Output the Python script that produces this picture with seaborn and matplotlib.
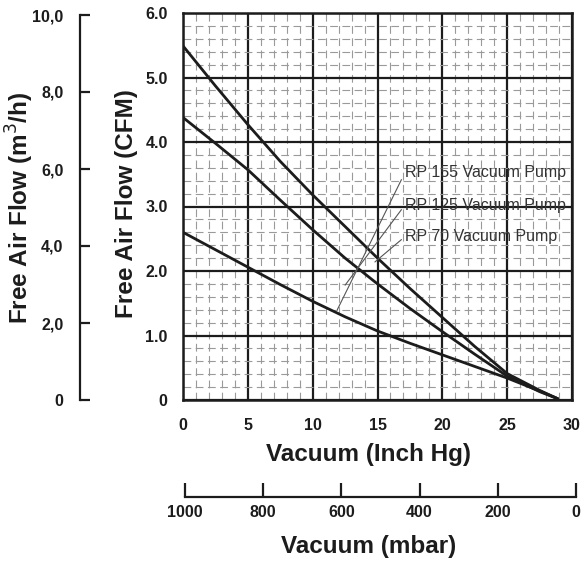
import numpy as np
import pandas as pd
import matplotlib
matplotlib.use("Agg")
import matplotlib.pyplot as plt
from matplotlib.ticker import MultipleLocator
import seaborn as sns

# values (vacuum in inch Hg, flow in CFM)
vacuum = [0, 2.5, 5, 7.5, 10, 12.5, 15, 17.5, 20, 22.5, 25, 27.5, 28.9]
rp155 = [5.49, 4.87, 4.27, 3.70, 3.18, 2.69, 2.20, 1.73, 1.28, 0.83, 0.41, 0.15, 0.02]
rp125 = [4.38, 3.98, 3.57, 3.10, 2.64, 2.20, 1.80, 1.42, 1.06, 0.71, 0.37, 0.13, 0.02]
rp70 = [2.60, 2.33, 2.06, 1.79, 1.53, 1.29, 1.07, 0.88, 0.70, 0.52, 0.34, 0.14, 0.02]
pumps = ["RP 155 Vacuum Pump", "RP 125 Vacuum Pump", "RP 70 Vacuum Pump"]

# leader lines: label anchor -> point in the plot
label_xy = [(17.1, 3.52), (17.1, 3.02), (17.1, 2.53)]
leader_xy = [(11.9, 1.40), (12.5, 1.78), (14.8, 2.14)]

cfm_ticks = [0, 1, 2, 3, 4, 5, 6]
inch_ticks = [0, 5, 10, 15, 20, 25, 30]
m3h_ticks = [0, 2, 4, 6, 8, 10]
mbar_ticks = [1000, 800, 600, 400, 200, 0]

df = pd.DataFrame({
    "vacuum": vacuum * 3,
    "flow": rp155 + rp125 + rp70,
    "pump": [p for p in pumps for _ in vacuum],
})

sns.set_style("white")
plt.rcParams["font.family"] = ["Liberation Sans", "DejaVu Sans"]
ink = "#1c1c1c"
tick_fs = 11.5
label_fs = 17.5

W, H = 586, 565
fig = plt.figure(figsize=(W / 100, H / 100), dpi=100)

def fx(px):
    return px / W

def fy(py):
    return 1 - py / H

L, R, T, B = 183, 572, 13, 400
ax = fig.add_axes([fx(L), fy(B), (R - L) / W, (B - T) / H])

sns.lineplot(data=df, x="vacuum", y="flow", hue="pump", palette=[ink] * 3,
             linewidth=2.0, legend=False, ax=ax, zorder=5)

ax.set_xlim(0, 30)
ax.set_ylim(0, 6)
ax.set_xticks(inch_ticks)
ax.set_xticklabels([str(t) for t in inch_ticks])
ax.set_yticks(cfm_ticks)
ax.set_yticklabels(["0"] + [f"{t:.1f}" for t in cfm_ticks[1:]])
ax.xaxis.set_minor_locator(MultipleLocator(1))
ax.yaxis.set_minor_locator(MultipleLocator(0.2))
ax.grid(which="major", color=ink, linewidth=1.6)
ax.grid(which="minor", color="#9a9a9a", linewidth=0.8, linestyle=(0, (7, 4)))
ax.set_axisbelow(True)
for s in ax.spines.values():
    s.set_color(ink)
    s.set_linewidth(1.8)
ax.tick_params(which="both", length=0)
ax.tick_params(axis="x", pad=13, labelsize=tick_fs, labelcolor=ink)
ax.tick_params(axis="y", pad=11, labelsize=tick_fs, labelcolor=ink)
for t in ax.get_xticklabels() + ax.get_yticklabels():
    t.set_fontweight("bold")

ax.set_xlabel("Vacuum (Inch Hg)", fontsize=label_fs, fontweight="bold", color=ink, va="center")
ax.xaxis.set_label_coords((368 - L) / (R - L), (B - 454) / (B - T))
ax.set_ylabel("Free Air Flow (CFM)", fontsize=label_fs, fontweight="bold", color=ink, va="center")
ax.yaxis.set_label_coords((127 - L) / (R - L), (B - 204) / (B - T))

for name, (lx, ly), (ex, ey) in zip(pumps, label_xy, leader_xy):
    ax.annotate(name, xy=(ex, ey), xytext=(lx, ly), fontsize=11.5, color="#333333",
                va="center", ha="left", annotation_clip=False, zorder=6,
                arrowprops=dict(arrowstyle="-", color="#555555", lw=0.8,
                                shrinkA=0, shrinkB=0, relpos=(0, 0.5)))

# secondary scale: m3/h on the left
axm = fig.add_axes([fx(80), fy(B), 0.001, (B - 15) / H])
axm.set_ylim(0, 10)
axm.set_yticks(m3h_ticks)
axm.set_yticklabels(["0"] + [f"{t},0" for t in m3h_ticks[1:]])
axm.set_xticks([])
for k in ["top", "right", "bottom"]:
    axm.spines[k].set_visible(False)
axm.spines["left"].set_color(ink)
axm.spines["left"].set_linewidth(1.6)
axm.patch.set_alpha(0)
axm.tick_params(axis="y", left=True, direction="in", length=7, width=1.6, color=ink,
                pad=12, labelsize=tick_fs, labelcolor=ink)
for t in axm.get_yticklabels():
    t.set_fontweight("bold")
axm.set_ylabel("Free Air Flow (m$^3$/h)", fontsize=label_fs, fontweight="bold", color=ink, va="center")
axm.yaxis.set_label_coords(-(80 - 20) / (0.001 * W), 0.5)

# secondary scale: mbar at the bottom
axb = fig.add_axes([fx(L + 2), fy(497), (R - L + 2) / W, 0.001])
axb.set_xlim(1000, 0)
axb.set_xticks(mbar_ticks)
axb.set_xticklabels([str(t) for t in mbar_ticks])
axb.set_yticks([])
for k in ["top", "right", "left"]:
    axb.spines[k].set_visible(False)
axb.spines["bottom"].set_color(ink)
axb.spines["bottom"].set_linewidth(1.6)
axb.patch.set_alpha(0)
axb.tick_params(axis="x", bottom=True, direction="in", length=10, width=1.6, color=ink,
                pad=6, labelsize=tick_fs, labelcolor=ink)
for t in axb.get_xticklabels():
    t.set_fontweight("bold")
axb.set_xlabel("Vacuum (mbar)", fontsize=label_fs, fontweight="bold", color=ink, va="center")
axb.xaxis.set_label_coords(0.47, -(547 - 497) / (0.001 * H))

fig.savefig("out.png", dpi=100)
